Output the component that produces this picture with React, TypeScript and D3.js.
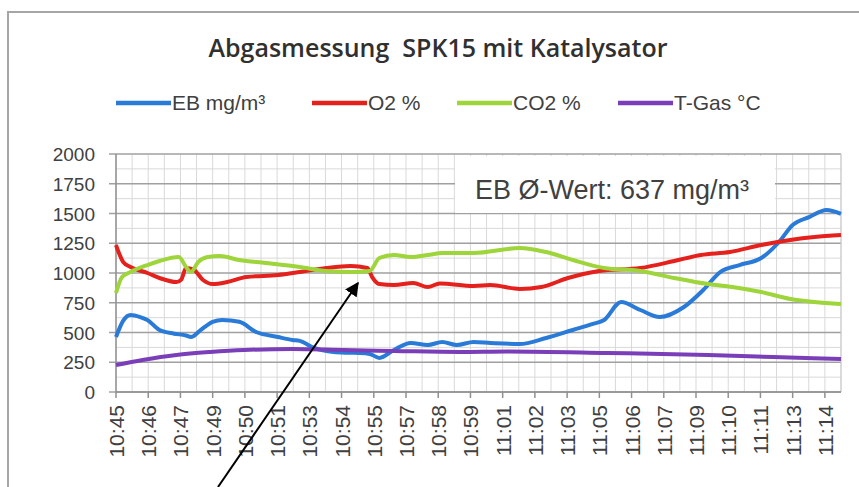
import React from "react";
import * as d3 from "d3";

// Zeit in Minuten ab 10:45:00, Werte aus dem Bild geschätzt
const ebData: [number, number][] = [
  [0, 462], [0.3, 600], [0.6, 647], [1.0, 630], [1.3, 605], [1.8, 521], [2.4, 490],
  [2.9, 475], [3.1, 462], [3.5, 520], [4.0, 590], [4.4, 605], [5.1, 590], [5.8, 504],
  [6.7, 462], [7.3, 437], [7.6, 430], [8.2, 370], [9.0, 336], [9.6, 330], [10.1, 328],
  [10.5, 320], [10.9, 286], [11.5, 353], [12.2, 412], [12.9, 395], [13.5, 420],
  [14.1, 395], [14.8, 420], [15.5, 412], [16.7, 403], [17.8, 454], [18.9, 521],
  [19.7, 570], [20.2, 605], [20.9, 756], [21.7, 689], [22.5, 630], [23.5, 714],
  [24.3, 857], [25.0, 1008], [25.8, 1067], [26.7, 1126], [27.4, 1252], [28.0, 1403],
  [28.7, 1471], [29.4, 1529], [30, 1496],
];

const o2Data: [number, number][] = [
  [0, 1235], [0.3, 1092], [0.6, 1050], [1.3, 1000], [1.8, 958], [2.5, 924],
  [2.7, 945], [2.9, 1042], [3.2, 1030], [3.6, 941], [4.0, 907], [4.6, 924],
  [5.4, 966], [6.7, 983], [7.6, 1008], [8.7, 1042], [9.7, 1059], [10.4, 1042],
  [10.6, 966], [10.9, 907], [11.5, 899], [12.3, 916], [12.9, 882], [13.4, 912],
  [14.8, 891], [15.5, 899], [16.7, 866], [17.6, 882], [18.7, 958], [20.0, 1017],
  [21.7, 1042], [23.1, 1101], [24.2, 1151], [25.4, 1176], [26.7, 1235],
  [27.9, 1277], [28.9, 1302], [30, 1319],
];

const co2Data: [number, number][] = [
  [0, 832], [0.25, 966], [0.6, 1008], [1.3, 1067], [1.8, 1101], [2.6, 1134],
  [2.9, 1050], [3.1, 1008], [3.4, 1092], [3.8, 1134], [4.3, 1143], [5.1, 1109],
  [6.2, 1084], [7.6, 1050], [8.7, 1017], [9.8, 1008], [10.5, 1017], [10.9, 1126],
  [11.5, 1151], [12.2, 1134], [12.9, 1151], [13.5, 1168], [14.8, 1168],
  [16.7, 1210], [17.8, 1176], [18.9, 1109], [20.2, 1042], [21.7, 1017],
  [23.1, 958], [24.5, 907], [25.5, 882], [26.7, 840], [27.9, 782], [28.9, 756],
  [30, 740],
];

const tgasData: [number, number][] = [
  [0, 227], [1.1, 269], [2.5, 311], [3.9, 336], [5.3, 353], [7.3, 361],
  [9.4, 353], [11.5, 345], [14.2, 336], [16.2, 340], [20.3, 328], [24.5, 311],
  [27.2, 294], [30, 277],
];

const tickLabels = [
  "10:45", "10:46", "10:47", "10:49", "10:50", "10:51", "10:53", "10:54",
  "10:55", "10:57", "10:58", "10:59", "11:01", "11:02", "11:03", "11:05",
  "11:06", "11:07", "11:09", "11:10", "11:11", "11:13", "11:14",
];
const yTicks = [0, 250, 500, 750, 1000, 1250, 1500, 1750, 2000];

const series = [
  { name: "EB mg/m³", color: "#2a7ad8", data: ebData },
  { name: "O2 %", color: "#e4211c", data: o2Data },
  { name: "CO2 %", color: "#9dd53a", data: co2Data },
  { name: "T-Gas °C", color: "#7a3fb8", data: tgasData },
];

const W = 859;
const H = 487;
const left = 116;
const right = 841;
const top = 154;
const bottom = 392;
const font = "Liberation Sans, Arial, sans-serif";
const textColor = "#404040";

export default function App() {
  const x = d3.scaleLinear().domain([0, 30]).range([left, right]);
  const y = d3.scaleLinear().domain([0, 2000]).range([bottom, top]);
  const line = d3
    .line<[number, number]>()
    .x((d) => x(d[0]))
    .y((d) => y(d[1]))
    .curve(d3.curveMonotoneX);

  // Beschriftung alle 80 s, Nebenlinien alle 40 s
  const tickStep = 80 / 60;
  const minorX = d3.range(0, 30.01, tickStep / 2);
  const minorY = d3.range(0, 2001, 125);

  const legendX = [116, 312, 457, 618];

  return (
    <svg
      width={W}
      height={H}
      style={{ position: "absolute", left: 0, top: 0, background: "#fff" }}
    >
      <defs>
        <marker id="head" viewBox="0 0 10 10" refX="9" refY="5" markerWidth="7" markerHeight="7" orient="auto">
          <path d="M0,0 L10,5 L0,10 z" fill="#000" />
        </marker>
      </defs>
      <rect x={8} y={12} width={900} height={520} fill="#fff" stroke="#a6a6a6" strokeWidth={2} />

      <text x={438} y={57} textAnchor="middle" fontFamily="Open Sans, sans-serif" fontWeight={600} fontSize={25} fill="#303030">
        {"Abgasmessung\u00a0 SPK15 mit Katalysator"}
      </text>

      {series.map((s, i) => (
        <g key={s.name} transform={`translate(${legendX[i]},103)`}>
          <line x1={0} x2={55} y1={0} y2={0} stroke={s.color} strokeWidth={4.5} />
          <text x={56} y={7} fontFamily={font} fontSize={21} fill={textColor}>
            {s.name}
          </text>
        </g>
      ))}

      {/* Gitter */}
      {minorX.map((m) => (
        <line key={"vx" + m} x1={x(m)} x2={x(m)} y1={top} y2={bottom} stroke="#d9d9d9" strokeWidth={1} />
      ))}
      {minorY.map((v) => (
        <line
          key={"hy" + v}
          x1={v % 250 === 0 ? left - 7 : left}
          x2={right}
          y1={y(v)}
          y2={y(v)}
          stroke={v % 250 === 0 ? "#a0a0a0" : "#d9d9d9"}
          strokeWidth={v % 250 === 0 ? 1.5 : 1}
        />
      ))}
      <line x1={left} x2={left} y1={top} y2={bottom} stroke="#909090" strokeWidth={1.5} />
      <line x1={right} x2={right} y1={top} y2={bottom} stroke="#c8c8c8" strokeWidth={1} />
      <line x1={left} x2={right} y1={bottom} y2={bottom} stroke="#909090" strokeWidth={1.5} />

      {yTicks.map((v) => (
        <text key={"yl" + v} x={95} y={y(v) + 7} textAnchor="end" fontFamily={font} fontSize={19} fill={textColor}>
          {v}
        </text>
      ))}

      {tickLabels.map((t, i) => {
        const px = x(i * tickStep);
        return (
          <g key={t}>
            <line x1={px} x2={px} y1={bottom} y2={bottom + 6} stroke="#909090" strokeWidth={1.5} />
            <text
              transform={`translate(${px + 8},${bottom + 13}) rotate(-90)`}
              textAnchor="end"
              fontFamily={font}
              fontSize={21}
              fill={textColor}
            >
              {t}
            </text>
          </g>
        );
      })}

      {series.map((s) => (
        <path key={s.name} d={line(s.data) ?? ""} fill="none" stroke={s.color} strokeWidth={4} strokeLinejoin="round" />
      ))}

      <rect x={455} y={156} width={320} height={57} fill="#fff" />
      <text x={475} y={199} fontFamily={font} fontSize={27} fill={textColor}>
        EB Ø-Wert: 637 mg/m³
      </text>

      <line x1={218} y1={487} x2={358} y2={283} stroke="#000" strokeWidth={2} markerEnd="url(#head)" />
    </svg>
  );
}
